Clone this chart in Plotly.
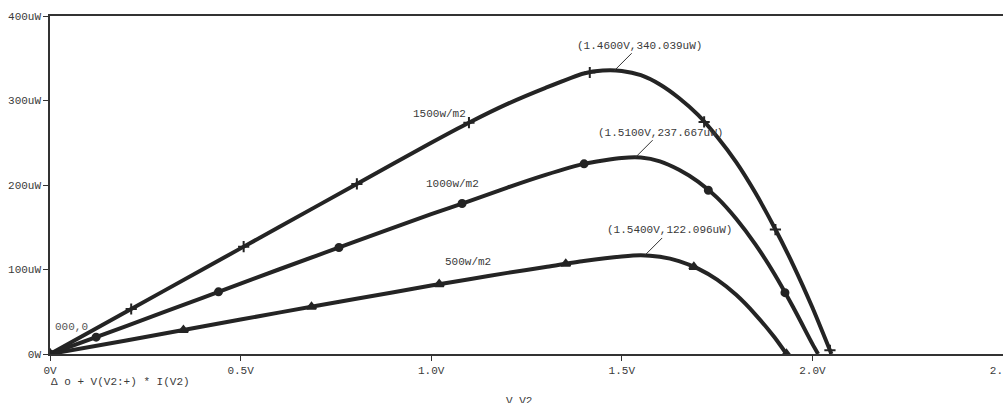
import numpy as np
import plotly.graph_objects as go

# ---- data (V in volts, P in uW) ----
v_1500 = [0, 0.2, 0.4, 0.6, 0.8, 1.0, 1.1, 1.2, 1.3, 1.4, 1.45, 1.5, 1.55, 1.6, 1.65, 1.7, 1.75, 1.8, 1.85, 1.9, 1.95, 2.0, 2.05]
p_1500 = [0, 50, 100, 150, 200, 250, 274, 296, 315, 332, 335.5, 335, 330, 319, 303, 283, 257, 227, 191, 150, 105, 55, 0]
v_1000 = [0, 0.2, 0.4, 0.6, 0.8, 1.0, 1.1, 1.2, 1.3, 1.4, 1.5, 1.55, 1.6, 1.65, 1.7, 1.75, 1.8, 1.85, 1.9, 1.95, 2.0, 2.015]
p_1000 = [0, 33, 66.5, 100, 133, 165.5, 181, 197, 212, 225, 232, 232.5, 228, 218, 204, 185, 160, 130, 95, 55, 12, 0]
v_500 = [0, 0.2, 0.4, 0.6, 0.8, 1.0, 1.1, 1.2, 1.3, 1.4, 1.5, 1.55, 1.6, 1.65, 1.7, 1.75, 1.8, 1.85, 1.9, 1.932]
p_500 = [0, 16, 32.5, 49, 65, 81, 88.5, 96, 103, 110, 115.5, 117, 115, 110, 101, 88, 70, 47, 20, 0]

# marker positions along each trace
mv_1500 = [0, 0.213, 0.508, 0.805, 1.099, 1.416, 1.716, 1.903, 2.046]
mv_1000 = [0, 0.121, 0.442, 0.758, 1.081, 1.401, 1.727, 1.928]
mv_500 = [0, 0.35, 0.686, 1.021, 1.353, 1.689, 1.932]

series_names = ["1500w/m2", "1000w/m2", "500w/m2"]
peak_labels = ["(1.4600V,340.039uW)", "(1.5100V,237.667uW)", "(1.5400V,122.096uW)"]
peak_anchor_v = [1.48, 1.535, 1.56]
name_pos_v = [1.023, 1.057, 1.097]
name_pos_p = [284, 201, 109]

x_ticks = [0, 0.5, 1.0, 1.5, 2.0, 2.5]
x_ticktext = ["0V", "0.5V", "1.0V", "1.5V", "2.0V", "2.5V"]
y_ticks = [0, 100, 200, 300, 400]
y_ticktext = ["0W", "100uW", "200uW", "300uW", "400uW"]

FONT = "Liberation Mono, Courier New, monospace"
INK = "#242424"
TXT = "#3a3a3a"

fig = go.Figure()
curves = [(v_1500, p_1500, mv_1500, "cross-thin", 8),
          (v_1000, p_1000, mv_1000, "circle", 7),
          (v_500, p_500, mv_500, "triangle-up", 8)]
for (vv, pp, mv, sym, sz), name in zip(curves, series_names):
    fig.add_trace(go.Scatter(x=vv, y=pp, mode="lines", name=name,
                             line=dict(color=INK, width=4, shape="spline", smoothing=0.6),
                             showlegend=False, hoverinfo="skip"))
    mp = np.interp(mv, vv, pp)
    fig.add_trace(go.Scatter(x=mv, y=mp, mode="markers", showlegend=False,
                             marker=dict(symbol=sym, size=sz, color=INK,
                                         line=dict(color=INK, width=2)),
                             hoverinfo="skip"))

annotations = []
for (vv, pp, _, _, _), lab, av, nv, npos, name in zip(curves, peak_labels, peak_anchor_v,
                                                     name_pos_v, name_pos_p, series_names):
    ap = float(np.interp(av, vv, pp))
    annotations.append(dict(x=av, y=ap, xref="x", yref="y", text=lab, showarrow=True,
                            arrowhead=0, arrowwidth=1, arrowcolor="#333", ax=25, ay=-25,
                            font=dict(family=FONT, size=11, color=TXT), standoff=0))
    annotations.append(dict(x=nv, y=npos, xref="x", yref="y", text=name, showarrow=False,
                            font=dict(family=FONT, size=11, color=TXT)))

annotations.append(dict(x=0.003, y=0.08, xref="paper", yref="paper", text="000,0",
                        showarrow=False, xanchor="left", yanchor="middle",
                        font=dict(family=FONT, size=11, color="#555")))
annotations.append(dict(x=-0.001, y=-0.083, xref="paper", yref="paper",
                        text="Δ ο + V(V2:+) * I(V2)", showarrow=False,
                        xanchor="left", yanchor="middle",
                        font=dict(family=FONT, size=11, color=TXT)))
annotations.append(dict(x=0.492, y=-0.139, xref="paper", yref="paper", text="V_V2",
                        showarrow=False, xanchor="center", yanchor="middle",
                        font=dict(family=FONT, size=11, color=TXT)))

fig.update_layout(
    width=1003, height=403,
    margin=dict(l=50, r=0, t=16, b=49, autoexpand=False),
    paper_bgcolor="white", plot_bgcolor="white",
    annotations=annotations,
    xaxis=dict(range=[0, 2.5], tickvals=x_ticks, ticktext=x_ticktext,
               showline=True, linecolor="#333", linewidth=1.5, mirror=True,
               ticks="outside", ticklen=5, tickcolor="#333", showgrid=False,
               zeroline=False, ticklabeloverflow="allow", automargin=False,
               tickfont=dict(family=FONT, size=11, color=TXT)),
    yaxis=dict(range=[0, 400], tickvals=y_ticks, ticktext=y_ticktext,
               showline=True, linecolor="#333", linewidth=1.5,
               ticks="outside", ticklen=5, tickcolor="#333", showgrid=False,
               zeroline=False, automargin=False,
               tickfont=dict(family=FONT, size=11, color=TXT)),
)

fig.write_html("out.html", config={"displayModeBar": False},
               post_script="document.body.style.margin='0';document.body.style.overflow='hidden';")
